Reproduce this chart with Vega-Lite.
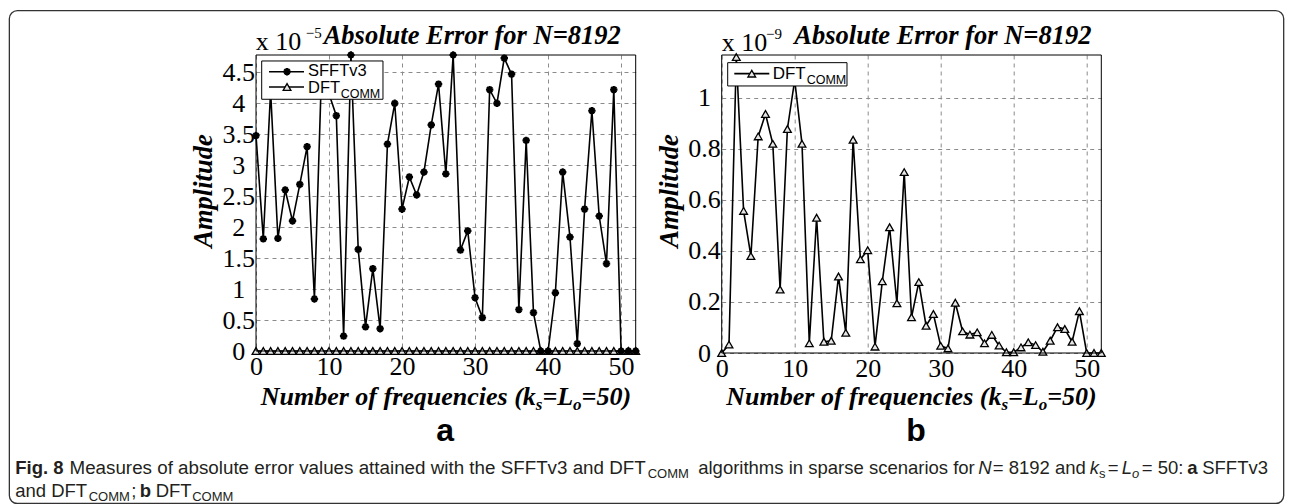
{
  "$schema": "https://vega.github.io/schema/vega-lite/v6.json",
  "background": "white",
  "padding": {"left": 8, "top": 9, "right": 7, "bottom": 0},
  "spacing": 85.7,
  "bounds": "flush",
  "config": {
    "view": {"stroke": null},
    "axis": {"domain": false, "ticks": false, "grid": true, "gridColor": "#8c8c8c", "gridDash": [4, 4], "gridWidth": 1, "labelFont": "Liberation Serif", "labelFontSize": 26, "labelColor": "#000", "labelPadding": 2, "labelFlush": false, "labelOverlap": false, "labelBound": false},
    "axisY": {"labelAlign": "center", "labelPadding": 17.7}
  },
  "data": {"values": [
    {"k":0,"alg":"SFFTv3","err":3.48e-5},{"k":1,"alg":"SFFTv3","err":1.81e-5},{"k":2,"alg":"SFFTv3","err":4.2e-5},{"k":3,"alg":"SFFTv3","err":1.82e-5},{"k":4,"alg":"SFFTv3","err":2.6e-5},{"k":5,"alg":"SFFTv3","err":2.1e-5},{"k":6,"alg":"SFFTv3","err":2.69e-5},{"k":7,"alg":"SFFTv3","err":3.3e-5},{"k":8,"alg":"SFFTv3","err":0.84e-5},{"k":9,"alg":"SFFTv3","err":4.6e-5},{"k":10,"alg":"SFFTv3","err":4.15e-5},{"k":11,"alg":"SFFTv3","err":3.8e-5},{"k":12,"alg":"SFFTv3","err":0.24e-5},{"k":13,"alg":"SFFTv3","err":4.78e-5},{"k":14,"alg":"SFFTv3","err":1.64e-5},{"k":15,"alg":"SFFTv3","err":0.39e-5},{"k":16,"alg":"SFFTv3","err":1.33e-5},{"k":17,"alg":"SFFTv3","err":0.36e-5},{"k":18,"alg":"SFFTv3","err":3.34e-5},{"k":19,"alg":"SFFTv3","err":4.0e-5},{"k":20,"alg":"SFFTv3","err":2.29e-5},{"k":21,"alg":"SFFTv3","err":2.81e-5},{"k":22,"alg":"SFFTv3","err":2.52e-5},{"k":23,"alg":"SFFTv3","err":2.89e-5},{"k":24,"alg":"SFFTv3","err":3.65e-5},{"k":25,"alg":"SFFTv3","err":4.31e-5},{"k":26,"alg":"SFFTv3","err":2.86e-5},{"k":27,"alg":"SFFTv3","err":4.78e-5},{"k":28,"alg":"SFFTv3","err":1.63e-5},{"k":29,"alg":"SFFTv3","err":1.94e-5},{"k":30,"alg":"SFFTv3","err":0.86e-5},{"k":31,"alg":"SFFTv3","err":0.54e-5},{"k":32,"alg":"SFFTv3","err":4.22e-5},{"k":33,"alg":"SFFTv3","err":4.0e-5},{"k":34,"alg":"SFFTv3","err":4.73e-5},{"k":35,"alg":"SFFTv3","err":4.47e-5},{"k":36,"alg":"SFFTv3","err":0.67e-5},{"k":37,"alg":"SFFTv3","err":3.4e-5},{"k":38,"alg":"SFFTv3","err":0.62e-5},{"k":39,"alg":"SFFTv3","err":0},{"k":40,"alg":"SFFTv3","err":0},{"k":41,"alg":"SFFTv3","err":0.94e-5},{"k":42,"alg":"SFFTv3","err":2.89e-5},{"k":43,"alg":"SFFTv3","err":1.84e-5},{"k":44,"alg":"SFFTv3","err":0.12e-5},{"k":45,"alg":"SFFTv3","err":2.29e-5},{"k":46,"alg":"SFFTv3","err":3.88e-5},{"k":47,"alg":"SFFTv3","err":2.18e-5},{"k":48,"alg":"SFFTv3","err":1.41e-5},{"k":49,"alg":"SFFTv3","err":4.22e-5},{"k":50,"alg":"SFFTv3","err":0},{"k":51,"alg":"SFFTv3","err":0},{"k":52,"alg":"SFFTv3","err":0},
    {"k":0,"alg":"DFT_COMM","err":0},{"k":1,"alg":"DFT_COMM","err":3.3e-11},{"k":2,"alg":"DFT_COMM","err":1.16e-9},{"k":3,"alg":"DFT_COMM","err":5.57e-10},{"k":4,"alg":"DFT_COMM","err":3.8e-10},{"k":5,"alg":"DFT_COMM","err":8.49e-10},{"k":6,"alg":"DFT_COMM","err":9.37e-10},{"k":7,"alg":"DFT_COMM","err":8.2e-10},{"k":8,"alg":"DFT_COMM","err":2.49e-10},{"k":9,"alg":"DFT_COMM","err":8.78e-10},{"k":10,"alg":"DFT_COMM","err":1.07e-9},{"k":11,"alg":"DFT_COMM","err":8.2e-10},{"k":12,"alg":"DFT_COMM","err":3.8e-11},{"k":13,"alg":"DFT_COMM","err":5.3e-10},{"k":14,"alg":"DFT_COMM","err":4.4e-11},{"k":15,"alg":"DFT_COMM","err":4.8e-11},{"k":16,"alg":"DFT_COMM","err":3.0e-10},{"k":17,"alg":"DFT_COMM","err":7.9e-11},{"k":18,"alg":"DFT_COMM","err":8.36e-10},{"k":19,"alg":"DFT_COMM","err":3.67e-10},{"k":20,"alg":"DFT_COMM","err":4.03e-10},{"k":21,"alg":"DFT_COMM","err":2.5e-11},{"k":22,"alg":"DFT_COMM","err":2.81e-10},{"k":23,"alg":"DFT_COMM","err":4.93e-10},{"k":24,"alg":"DFT_COMM","err":1.95e-10},{"k":25,"alg":"DFT_COMM","err":7.09e-10},{"k":26,"alg":"DFT_COMM","err":1.4e-10},{"k":27,"alg":"DFT_COMM","err":2.78e-10},{"k":28,"alg":"DFT_COMM","err":1.07e-10},{"k":29,"alg":"DFT_COMM","err":1.53e-10},{"k":30,"alg":"DFT_COMM","err":2.8e-11},{"k":31,"alg":"DFT_COMM","err":1.8e-11},{"k":32,"alg":"DFT_COMM","err":1.97e-10},{"k":33,"alg":"DFT_COMM","err":8.5e-11},{"k":34,"alg":"DFT_COMM","err":7.2e-11},{"k":35,"alg":"DFT_COMM","err":8.1e-11},{"k":36,"alg":"DFT_COMM","err":3.8e-11},{"k":37,"alg":"DFT_COMM","err":7.1e-11},{"k":38,"alg":"DFT_COMM","err":2.9e-11},{"k":39,"alg":"DFT_COMM","err":3e-12},{"k":40,"alg":"DFT_COMM","err":3e-12},{"k":41,"alg":"DFT_COMM","err":2.2e-11},{"k":42,"alg":"DFT_COMM","err":4.2e-11},{"k":43,"alg":"DFT_COMM","err":3.1e-11},{"k":44,"alg":"DFT_COMM","err":5e-12},{"k":45,"alg":"DFT_COMM","err":4.8e-11},{"k":46,"alg":"DFT_COMM","err":1.01e-10},{"k":47,"alg":"DFT_COMM","err":9.4e-11},{"k":48,"alg":"DFT_COMM","err":4.4e-11},{"k":49,"alg":"DFT_COMM","err":1.64e-10},{"k":50,"alg":"DFT_COMM","err":0},{"k":51,"alg":"DFT_COMM","err":0},{"k":52,"alg":"DFT_COMM","err":0}
  ]},
  "hconcat": [
    {
      "width": 379.7,
      "height": 296,
      "layer": [
        {"transform":[{"filter":"datum.alg === 'SFFTv3'"}],"mark":{"type":"line","color":"#000","strokeWidth":1.6},
         "encoding":{"x":{"field":"k","type":"quantitative","scale":{"domain":[0,52],"nice":false,"zero":false},"axis":{"values":[0,10,20,30,40,50],"title":null}},
                     "y":{"field":"err","type":"quantitative","scale":{"domain":[0,4.78e-5],"nice":false,"zero":false},"axis":{"values":[0,5e-6,1e-5,1.5e-5,2e-5,2.5e-5,3e-5,3.5e-5,4e-5,4.5e-5],"labelExpr":"format(datum.value*1e5,'~g')","title":null}}}},
        {"transform":[{"filter":"datum.alg === 'DFT_COMM'"}],"mark":{"type":"line","color":"#000","strokeWidth":1.6},
         "encoding":{"x":{"field":"k","type":"quantitative","scale":{"domain":[0,52],"nice":false,"zero":false},"axis":{"values":[0,10,20,30,40,50],"title":null}},
                     "y":{"field":"err","type":"quantitative","scale":{"domain":[0,4.78e-5],"nice":false,"zero":false},"axis":{"values":[0,5e-6,1e-5,1.5e-5,2e-5,2.5e-5,3e-5,3.5e-5,4e-5,4.5e-5],"labelExpr":"format(datum.value*1e5,'~g')","title":null}}}},
        {"transform":[{"filter":"datum.alg === 'DFT_COMM'"}],"mark":{"type":"point","shape":"triangle-up","filled":true,"fill":"#e6e6e6","stroke":"#000","strokeWidth":1.3,"size":60,"opacity":1},
         "encoding":{"x":{"field":"k","type":"quantitative","scale":{"domain":[0,52],"nice":false,"zero":false},"axis":{"values":[0,10,20,30,40,50],"title":null}},
                     "y":{"field":"err","type":"quantitative","scale":{"domain":[0,4.78e-5],"nice":false,"zero":false},"axis":{"values":[0,5e-6,1e-5,1.5e-5,2e-5,2.5e-5,3e-5,3.5e-5,4e-5,4.5e-5],"labelExpr":"format(datum.value*1e5,'~g')","title":null}}}},
        {"transform":[{"filter":"datum.alg === 'SFFTv3'"}],"mark":{"type":"point","shape":"M-1,0L1,0M0,-1L0,1M-0.7,-0.7L0.7,0.7M-0.7,0.7L0.7,-0.7","filled":false,"stroke":"#000","strokeWidth":2.2,"size":55,"opacity":1},
         "encoding":{"x":{"field":"k","type":"quantitative","scale":{"domain":[0,52],"nice":false,"zero":false},"axis":{"values":[0,10,20,30,40,50],"title":null}},
                     "y":{"field":"err","type":"quantitative","scale":{"domain":[0,4.78e-5],"nice":false,"zero":false},"axis":{"values":[0,5e-6,1e-5,1.5e-5,2e-5,2.5e-5,3e-5,3.5e-5,4e-5,4.5e-5],"labelExpr":"format(datum.value*1e5,'~g')","title":null}}}},
        {"data":{"values":[{}]},"mark":{"type":"rect","fillOpacity":0,"stroke":"#000","strokeWidth":1},
         "encoding":{"x":{"datum":0,"type":"quantitative","scale":{"domain":[0,52],"nice":false,"zero":false},"axis":{"values":[0,10,20,30,40,50],"title":null}},"x2":{"datum":52},
                     "y":{"datum":0,"type":"quantitative","scale":{"domain":[0,4.78e-5],"nice":false,"zero":false},"axis":{"values":[0,5e-6,1e-5,1.5e-5,2e-5,2.5e-5,3e-5,3.5e-5,4e-5,4.5e-5],"labelExpr":"format(datum.value*1e5,'~g')","title":null}},"y2":{"datum":4.78e-5}}},
        {"data":{"values":[{}]},"mark":{"type":"rect","fillOpacity":0,"stroke":"#333","strokeWidth":1.3,"cornerRadius":8},
         "encoding":{"x":{"datum":-33.778,"type":"quantitative","scale":{"domain":[0,52],"nice":false,"zero":false},"axis":{"values":[0,10,20,30,40,50],"title":null}},"x2":{"datum":140.742},
                     "y":{"datum":-2.46286e-5,"type":"quantitative","scale":{"domain":[0,4.78e-5],"nice":false,"zero":false},"axis":{"values":[0,5e-6,1e-5,1.5e-5,2e-5,2.5e-5,3e-5,3.5e-5,4e-5,4.5e-5],"labelExpr":"format(datum.value*1e5,'~g')","title":null}},"y2":{"datum":5.49661e-5}}},
        {"data":{"values":[{}]},"mark":{"type":"rect","fill":"#fff","stroke":"#000","strokeWidth":1},
         "encoding":{"x":{"datum":0.781,"type":"quantitative","scale":{"domain":[0,52],"nice":false,"zero":false},"axis":{"values":[0,10,20,30,40,50],"title":null}},"x2":{"datum":17.39},
                     "y":{"datum":4.06493e-5,"type":"quantitative","scale":{"domain":[0,4.78e-5],"nice":false,"zero":false},"axis":{"values":[0,5e-6,1e-5,1.5e-5,2e-5,2.5e-5,3e-5,3.5e-5,4e-5,4.5e-5],"labelExpr":"format(datum.value*1e5,'~g')","title":null}},"y2":{"datum":4.68347e-5}}},
        {"data":{"values":[{}]},"mark":{"type":"rule","color":"#000","strokeWidth":1.6},
         "encoding":{"x":{"datum":1.78,"type":"quantitative","scale":{"domain":[0,52],"nice":false,"zero":false},"axis":{"values":[0,10,20,30,40,50],"title":null}},"x2":{"datum":6.574},
                     "y":{"datum":4.51067e-5,"type":"quantitative","scale":{"domain":[0,4.78e-5],"nice":false,"zero":false},"axis":{"values":[0,5e-6,1e-5,1.5e-5,2e-5,2.5e-5,3e-5,3.5e-5,4e-5,4.5e-5],"labelExpr":"format(datum.value*1e5,'~g')","title":null}}}},
        {"data":{"values":[{}]},"mark":{"type":"rule","color":"#000","strokeWidth":1.6},
         "encoding":{"x":{"datum":1.78,"type":"quantitative","scale":{"domain":[0,52],"nice":false,"zero":false},"axis":{"values":[0,10,20,30,40,50],"title":null}},"x2":{"datum":6.574},
                     "y":{"datum":4.26357e-5,"type":"quantitative","scale":{"domain":[0,4.78e-5],"nice":false,"zero":false},"axis":{"values":[0,5e-6,1e-5,1.5e-5,2e-5,2.5e-5,3e-5,3.5e-5,4e-5,4.5e-5],"labelExpr":"format(datum.value*1e5,'~g')","title":null}}}},
        {"data":{"values":[{}]},"mark":{"type":"point","shape":"M-1,0L1,0M0,-1L0,1M-0.7,-0.7L0.7,0.7M-0.7,0.7L0.7,-0.7","filled":false,"stroke":"#000","strokeWidth":2.2,"size":55,"opacity":1},
         "encoding":{"x":{"datum":4.25,"type":"quantitative","scale":{"domain":[0,52],"nice":false,"zero":false},"axis":{"values":[0,10,20,30,40,50],"title":null}},
                     "y":{"datum":4.51067e-5,"type":"quantitative","scale":{"domain":[0,4.78e-5],"nice":false,"zero":false},"axis":{"values":[0,5e-6,1e-5,1.5e-5,2e-5,2.5e-5,3e-5,3.5e-5,4e-5,4.5e-5],"labelExpr":"format(datum.value*1e5,'~g')","title":null}}}},
        {"data":{"values":[{}]},"mark":{"type":"point","shape":"triangle-up","filled":true,"fill":"#e6e6e6","stroke":"#000","strokeWidth":1.3,"size":60,"opacity":1},
         "encoding":{"x":{"datum":4.25,"type":"quantitative","scale":{"domain":[0,52],"nice":false,"zero":false},"axis":{"values":[0,10,20,30,40,50],"title":null}},
                     "y":{"datum":4.26357e-5,"type":"quantitative","scale":{"domain":[0,4.78e-5],"nice":false,"zero":false},"axis":{"values":[0,5e-6,1e-5,1.5e-5,2e-5,2.5e-5,3e-5,3.5e-5,4e-5,4.5e-5],"labelExpr":"format(datum.value*1e5,'~g')","title":null}}}},
        {"data":{"values":[{}]},"mark":{"type":"text","text":"SFFTv3","font":"Liberation Sans","fontSize":16.5,"align":"left","baseline":"alphabetic","color":"#000"},
         "encoding":{"x":{"datum":7.121,"type":"quantitative","scale":{"domain":[0,52],"nice":false,"zero":false},"axis":{"values":[0,10,20,30,40,50],"title":null}},
                     "y":{"datum":4.43315e-5,"type":"quantitative","scale":{"domain":[0,4.78e-5],"nice":false,"zero":false},"axis":{"values":[0,5e-6,1e-5,1.5e-5,2e-5,2.5e-5,3e-5,3.5e-5,4e-5,4.5e-5],"labelExpr":"format(datum.value*1e5,'~g')","title":null}}}},
        {"data":{"values":[{}]},"mark":{"type":"text","text":"DFT","font":"Liberation Sans","fontSize":16.5,"align":"left","baseline":"alphabetic","color":"#000"},
         "encoding":{"x":{"datum":7.121,"type":"quantitative","scale":{"domain":[0,52],"nice":false,"zero":false},"axis":{"values":[0,10,20,30,40,50],"title":null}},
                     "y":{"datum":4.16667e-5,"type":"quantitative","scale":{"domain":[0,4.78e-5],"nice":false,"zero":false},"axis":{"values":[0,5e-6,1e-5,1.5e-5,2e-5,2.5e-5,3e-5,3.5e-5,4e-5,4.5e-5],"labelExpr":"format(datum.value*1e5,'~g')","title":null}}}},
        {"data":{"values":[{}]},"mark":{"type":"text","text":"COMM","font":"Liberation Sans","fontSize":12.5,"align":"left","baseline":"alphabetic","color":"#000"},
         "encoding":{"x":{"datum":11.6,"type":"quantitative","scale":{"domain":[0,52],"nice":false,"zero":false},"axis":{"values":[0,10,20,30,40,50],"title":null}},
                     "y":{"datum":4.08592e-5,"type":"quantitative","scale":{"domain":[0,4.78e-5],"nice":false,"zero":false},"axis":{"values":[0,5e-6,1e-5,1.5e-5,2e-5,2.5e-5,3e-5,3.5e-5,4e-5,4.5e-5],"labelExpr":"format(datum.value*1e5,'~g')","title":null}}}},
        {"data":{"values":[{}]},"mark":{"type":"text","text":"x 10","font":"Liberation Serif","fontSize":26,"align":"left","baseline":"alphabetic","color":"#000"},
         "encoding":{"x":{"datum":-0.04,"type":"quantitative","scale":{"domain":[0,52],"nice":false,"zero":false},"axis":{"values":[0,10,20,30,40,50],"title":null}},
                     "y":{"datum":4.85627e-5,"type":"quantitative","scale":{"domain":[0,4.78e-5],"nice":false,"zero":false},"axis":{"values":[0,5e-6,1e-5,1.5e-5,2e-5,2.5e-5,3e-5,3.5e-5,4e-5,4.5e-5],"labelExpr":"format(datum.value*1e5,'~g')","title":null}}}},
        {"data":{"values":[{}]},"mark":{"type":"text","text":"−5","font":"Liberation Serif","fontSize":15,"align":"left","baseline":"alphabetic","color":"#000"},
         "encoding":{"x":{"datum":6.806,"type":"quantitative","scale":{"domain":[0,52],"nice":false,"zero":false},"axis":{"values":[0,10,20,30,40,50],"title":null}},
                     "y":{"datum":5.04684e-5,"type":"quantitative","scale":{"domain":[0,4.78e-5],"nice":false,"zero":false},"axis":{"values":[0,5e-6,1e-5,1.5e-5,2e-5,2.5e-5,3e-5,3.5e-5,4e-5,4.5e-5],"labelExpr":"format(datum.value*1e5,'~g')","title":null}}}},
        {"data":{"values":[{}]},"mark":{"type":"text","text":"Absolute Error for N=8192","font":"Liberation Serif","fontSize":26.5,"fontWeight":"bold","fontStyle":"italic","align":"left","baseline":"alphabetic","color":"#000"},
         "encoding":{"x":{"datum":9.271,"type":"quantitative","scale":{"domain":[0,52],"nice":false,"zero":false},"axis":{"values":[0,10,20,30,40,50],"title":null}},
                     "y":{"datum":4.95317e-5,"type":"quantitative","scale":{"domain":[0,4.78e-5],"nice":false,"zero":false},"axis":{"values":[0,5e-6,1e-5,1.5e-5,2e-5,2.5e-5,3e-5,3.5e-5,4e-5,4.5e-5],"labelExpr":"format(datum.value*1e5,'~g')","title":null}}}},
        {"data":{"values":[{}]},"mark":{"type":"text","text":"Amplitude","angle":270,"font":"Liberation Serif","fontSize":26.5,"fontWeight":"bold","fontStyle":"italic","align":"center","baseline":"alphabetic","color":"#000"},
         "encoding":{"x":{"datum":-5.985,"type":"quantitative","scale":{"domain":[0,52],"nice":false,"zero":false},"axis":{"values":[0,10,20,30,40,50],"title":null}},
                     "y":{"datum":2.58398e-5,"type":"quantitative","scale":{"domain":[0,4.78e-5],"nice":false,"zero":false},"axis":{"values":[0,5e-6,1e-5,1.5e-5,2e-5,2.5e-5,3e-5,3.5e-5,4e-5,4.5e-5],"labelExpr":"format(datum.value*1e5,'~g')","title":null}}}},
        {"data":{"values":[{}]},"mark":{"type":"text","text":"Number of frequencies (k","font":"Liberation Serif","fontSize":26,"fontWeight":"bold","fontStyle":"italic","align":"left","baseline":"alphabetic","color":"#000"},
         "encoding":{"x":{"datum":0.644,"type":"quantitative","scale":{"domain":[0,52],"nice":false,"zero":false},"axis":{"values":[0,10,20,30,40,50],"title":null}},
                     "y":{"datum":-0.872095e-5,"type":"quantitative","scale":{"domain":[0,4.78e-5],"nice":false,"zero":false},"axis":{"values":[0,5e-6,1e-5,1.5e-5,2e-5,2.5e-5,3e-5,3.5e-5,4e-5,4.5e-5],"labelExpr":"format(datum.value*1e5,'~g')","title":null}}}},
        {"data":{"values":[{}]},"mark":{"type":"text","text":"s","font":"Liberation Serif","fontSize":17,"fontWeight":"bold","fontStyle":"italic","align":"left","baseline":"alphabetic","color":"#000"},
         "encoding":{"x":{"datum":38.318,"type":"quantitative","scale":{"domain":[0,52],"nice":false,"zero":false},"axis":{"values":[0,10,20,30,40,50],"title":null}},
                     "y":{"datum":-0.952844e-5,"type":"quantitative","scale":{"domain":[0,4.78e-5],"nice":false,"zero":false},"axis":{"values":[0,5e-6,1e-5,1.5e-5,2e-5,2.5e-5,3e-5,3.5e-5,4e-5,4.5e-5],"labelExpr":"format(datum.value*1e5,'~g')","title":null}}}},
        {"data":{"values":[{}]},"mark":{"type":"text","text":"=L","font":"Liberation Serif","fontSize":26,"fontWeight":"bold","fontStyle":"italic","align":"left","baseline":"alphabetic","color":"#000"},
         "encoding":{"x":{"datum":39.222,"type":"quantitative","scale":{"domain":[0,52],"nice":false,"zero":false},"axis":{"values":[0,10,20,30,40,50],"title":null}},
                     "y":{"datum":-0.872095e-5,"type":"quantitative","scale":{"domain":[0,4.78e-5],"nice":false,"zero":false},"axis":{"values":[0,5e-6,1e-5,1.5e-5,2e-5,2.5e-5,3e-5,3.5e-5,4e-5,4.5e-5],"labelExpr":"format(datum.value*1e5,'~g')","title":null}}}},
        {"data":{"values":[{}]},"mark":{"type":"text","text":"o","font":"Liberation Serif","fontSize":17,"fontWeight":"bold","fontStyle":"italic","align":"left","baseline":"alphabetic","color":"#000"},
         "encoding":{"x":{"datum":43.426,"type":"quantitative","scale":{"domain":[0,52],"nice":false,"zero":false},"axis":{"values":[0,10,20,30,40,50],"title":null}},
                     "y":{"datum":-0.952844e-5,"type":"quantitative","scale":{"domain":[0,4.78e-5],"nice":false,"zero":false},"axis":{"values":[0,5e-6,1e-5,1.5e-5,2e-5,2.5e-5,3e-5,3.5e-5,4e-5,4.5e-5],"labelExpr":"format(datum.value*1e5,'~g')","title":null}}}},
        {"data":{"values":[{}]},"mark":{"type":"text","text":"=50)","font":"Liberation Serif","fontSize":26,"fontWeight":"bold","fontStyle":"italic","align":"left","baseline":"alphabetic","color":"#000"},
         "encoding":{"x":{"datum":44.591,"type":"quantitative","scale":{"domain":[0,52],"nice":false,"zero":false},"axis":{"values":[0,10,20,30,40,50],"title":null}},
                     "y":{"datum":-0.872095e-5,"type":"quantitative","scale":{"domain":[0,4.78e-5],"nice":false,"zero":false},"axis":{"values":[0,5e-6,1e-5,1.5e-5,2e-5,2.5e-5,3e-5,3.5e-5,4e-5,4.5e-5],"labelExpr":"format(datum.value*1e5,'~g')","title":null}}}},
        {"data":{"values":[{}]},"mark":{"type":"text","text":"a","font":"Liberation Sans","fontSize":32,"fontWeight":"bold","align":"center","baseline":"alphabetic","color":"#000"},
         "encoding":{"x":{"datum":25.911,"type":"quantitative","scale":{"domain":[0,52],"nice":false,"zero":false},"axis":{"values":[0,10,20,30,40,50],"title":null}},
                     "y":{"datum":-1.45349e-5,"type":"quantitative","scale":{"domain":[0,4.78e-5],"nice":false,"zero":false},"axis":{"values":[0,5e-6,1e-5,1.5e-5,2e-5,2.5e-5,3e-5,3.5e-5,4e-5,4.5e-5],"labelExpr":"format(datum.value*1e5,'~g')","title":null}}}},
        {"data":{"values":[{}]},"mark":{"type":"text","text":"Fig. 8","font":"Liberation Sans","fontSize":18.5,"fontWeight":"bold","align":"left","baseline":"alphabetic","color":"#231f20"},
         "encoding":{"x":{"datum":-32.977,"type":"quantitative","scale":{"domain":[0,52],"nice":false,"zero":false},"axis":{"values":[0,10,20,30,40,50],"title":null}},
                     "y":{"datum":-1.98644e-5,"type":"quantitative","scale":{"domain":[0,4.78e-5],"nice":false,"zero":false},"axis":{"values":[0,5e-6,1e-5,1.5e-5,2e-5,2.5e-5,3e-5,3.5e-5,4e-5,4.5e-5],"labelExpr":"format(datum.value*1e5,'~g')","title":null}}}},
        {"data":{"values":[{}]},"mark":{"type":"text","text":"Measures of absolute error values attained with the SFFTv3 and DFT","font":"Liberation Sans","fontSize":18.8,"align":"left","baseline":"alphabetic","color":"#231f20"},
         "encoding":{"x":{"datum":-25.541,"type":"quantitative","scale":{"domain":[0,52],"nice":false,"zero":false},"axis":{"values":[0,10,20,30,40,50],"title":null}},
                     "y":{"datum":-1.98644e-5,"type":"quantitative","scale":{"domain":[0,4.78e-5],"nice":false,"zero":false},"axis":{"values":[0,5e-6,1e-5,1.5e-5,2e-5,2.5e-5,3e-5,3.5e-5,4e-5,4.5e-5],"labelExpr":"format(datum.value*1e5,'~g')","title":null}}}},
        {"data":{"values":[{}]},"mark":{"type":"text","text":"COMM","font":"Liberation Sans","fontSize":13,"align":"left","baseline":"alphabetic","color":"#231f20"},
         "encoding":{"x":{"datum":53.643,"type":"quantitative","scale":{"domain":[0,52],"nice":false,"zero":false},"axis":{"values":[0,10,20,30,40,50],"title":null}},
                     "y":{"datum":-2.05104e-5,"type":"quantitative","scale":{"domain":[0,4.78e-5],"nice":false,"zero":false},"axis":{"values":[0,5e-6,1e-5,1.5e-5,2e-5,2.5e-5,3e-5,3.5e-5,4e-5,4.5e-5],"labelExpr":"format(datum.value*1e5,'~g')","title":null}}}},
        {"data":{"values":[{}]},"mark":{"type":"text","text":"algorithms in sparse scenarios for","font":"Liberation Sans","fontSize":18.5,"align":"left","baseline":"alphabetic","color":"#231f20"},
         "encoding":{"x":{"datum":60.559,"type":"quantitative","scale":{"domain":[0,52],"nice":false,"zero":false},"axis":{"values":[0,10,20,30,40,50],"title":null}},
                     "y":{"datum":-1.98644e-5,"type":"quantitative","scale":{"domain":[0,4.78e-5],"nice":false,"zero":false},"axis":{"values":[0,5e-6,1e-5,1.5e-5,2e-5,2.5e-5,3e-5,3.5e-5,4e-5,4.5e-5],"labelExpr":"format(datum.value*1e5,'~g')","title":null}}}},
        {"data":{"values":[{}]},"mark":{"type":"text","text":"N","font":"Liberation Sans","fontSize":18.5,"fontStyle":"italic","align":"left","baseline":"alphabetic","color":"#231f20"},
         "encoding":{"x":{"datum":98.904,"type":"quantitative","scale":{"domain":[0,52],"nice":false,"zero":false},"axis":{"values":[0,10,20,30,40,50],"title":null}},
                     "y":{"datum":-1.98644e-5,"type":"quantitative","scale":{"domain":[0,4.78e-5],"nice":false,"zero":false},"axis":{"values":[0,5e-6,1e-5,1.5e-5,2e-5,2.5e-5,3e-5,3.5e-5,4e-5,4.5e-5],"labelExpr":"format(datum.value*1e5,'~g')","title":null}}}},
        {"data":{"values":[{}]},"mark":{"type":"text","text":"= 8192 and","font":"Liberation Sans","fontSize":18.5,"align":"left","baseline":"alphabetic","color":"#231f20"},
         "encoding":{"x":{"datum":100.89,"type":"quantitative","scale":{"domain":[0,52],"nice":false,"zero":false},"axis":{"values":[0,10,20,30,40,50],"title":null}},
                     "y":{"datum":-1.98644e-5,"type":"quantitative","scale":{"domain":[0,4.78e-5],"nice":false,"zero":false},"axis":{"values":[0,5e-6,1e-5,1.5e-5,2e-5,2.5e-5,3e-5,3.5e-5,4e-5,4.5e-5],"labelExpr":"format(datum.value*1e5,'~g')","title":null}}}},
        {"data":{"values":[{}]},"mark":{"type":"text","text":"k","font":"Liberation Sans","fontSize":18.5,"fontStyle":"italic","align":"left","baseline":"alphabetic","color":"#231f20"},
         "encoding":{"x":{"datum":114.174,"type":"quantitative","scale":{"domain":[0,52],"nice":false,"zero":false},"axis":{"values":[0,10,20,30,40,50],"title":null}},
                     "y":{"datum":-1.98644e-5,"type":"quantitative","scale":{"domain":[0,4.78e-5],"nice":false,"zero":false},"axis":{"values":[0,5e-6,1e-5,1.5e-5,2e-5,2.5e-5,3e-5,3.5e-5,4e-5,4.5e-5],"labelExpr":"format(datum.value*1e5,'~g')","title":null}}}},
        {"data":{"values":[{}]},"mark":{"type":"text","text":"s","font":"Liberation Sans","fontSize":13,"align":"left","baseline":"alphabetic","color":"#231f20"},
         "encoding":{"x":{"datum":115.434,"type":"quantitative","scale":{"domain":[0,52],"nice":false,"zero":false},"axis":{"values":[0,10,20,30,40,50],"title":null}},
                     "y":{"datum":-2.05104e-5,"type":"quantitative","scale":{"domain":[0,4.78e-5],"nice":false,"zero":false},"axis":{"values":[0,5e-6,1e-5,1.5e-5,2e-5,2.5e-5,3e-5,3.5e-5,4e-5,4.5e-5],"labelExpr":"format(datum.value*1e5,'~g')","title":null}}}},
        {"data":{"values":[{}]},"mark":{"type":"text","text":"=","font":"Liberation Sans","fontSize":18.5,"align":"left","baseline":"alphabetic","color":"#231f20"},
         "encoding":{"x":{"datum":116.639,"type":"quantitative","scale":{"domain":[0,52],"nice":false,"zero":false},"axis":{"values":[0,10,20,30,40,50],"title":null}},
                     "y":{"datum":-1.98644e-5,"type":"quantitative","scale":{"domain":[0,4.78e-5],"nice":false,"zero":false},"axis":{"values":[0,5e-6,1e-5,1.5e-5,2e-5,2.5e-5,3e-5,3.5e-5,4e-5,4.5e-5],"labelExpr":"format(datum.value*1e5,'~g')","title":null}}}},
        {"data":{"values":[{}]},"mark":{"type":"text","text":"L","font":"Liberation Sans","fontSize":18.5,"fontStyle":"italic","align":"left","baseline":"alphabetic","color":"#231f20"},
         "encoding":{"x":{"datum":118.556,"type":"quantitative","scale":{"domain":[0,52],"nice":false,"zero":false},"axis":{"values":[0,10,20,30,40,50],"title":null}},
                     "y":{"datum":-1.98644e-5,"type":"quantitative","scale":{"domain":[0,4.78e-5],"nice":false,"zero":false},"axis":{"values":[0,5e-6,1e-5,1.5e-5,2e-5,2.5e-5,3e-5,3.5e-5,4e-5,4.5e-5],"labelExpr":"format(datum.value*1e5,'~g')","title":null}}}},
        {"data":{"values":[{}]},"mark":{"type":"text","text":"o","font":"Liberation Sans","fontSize":13,"fontStyle":"italic","align":"left","baseline":"alphabetic","color":"#231f20"},
         "encoding":{"x":{"datum":119.967,"type":"quantitative","scale":{"domain":[0,52],"nice":false,"zero":false},"axis":{"values":[0,10,20,30,40,50],"title":null}},
                     "y":{"datum":-2.05104e-5,"type":"quantitative","scale":{"domain":[0,4.78e-5],"nice":false,"zero":false},"axis":{"values":[0,5e-6,1e-5,1.5e-5,2e-5,2.5e-5,3e-5,3.5e-5,4e-5,4.5e-5],"labelExpr":"format(datum.value*1e5,'~g')","title":null}}}},
        {"data":{"values":[{}]},"mark":{"type":"text","text":"= 50:","font":"Liberation Sans","fontSize":18.5,"align":"left","baseline":"alphabetic","color":"#231f20"},
         "encoding":{"x":{"datum":121.296,"type":"quantitative","scale":{"domain":[0,52],"nice":false,"zero":false},"axis":{"values":[0,10,20,30,40,50],"title":null}},
                     "y":{"datum":-1.98644e-5,"type":"quantitative","scale":{"domain":[0,4.78e-5],"nice":false,"zero":false},"axis":{"values":[0,5e-6,1e-5,1.5e-5,2e-5,2.5e-5,3e-5,3.5e-5,4e-5,4.5e-5],"labelExpr":"format(datum.value*1e5,'~g')","title":null}}}},
        {"data":{"values":[{}]},"mark":{"type":"text","text":"a","font":"Liberation Sans","fontSize":18.5,"fontWeight":"bold","align":"left","baseline":"alphabetic","color":"#231f20"},
         "encoding":{"x":{"datum":127.527,"type":"quantitative","scale":{"domain":[0,52],"nice":false,"zero":false},"axis":{"values":[0,10,20,30,40,50],"title":null}},
                     "y":{"datum":-1.98644e-5,"type":"quantitative","scale":{"domain":[0,4.78e-5],"nice":false,"zero":false},"axis":{"values":[0,5e-6,1e-5,1.5e-5,2e-5,2.5e-5,3e-5,3.5e-5,4e-5,4.5e-5],"labelExpr":"format(datum.value*1e5,'~g')","title":null}}}},
        {"data":{"values":[{}]},"mark":{"type":"text","text":"SFFTv3","font":"Liberation Sans","fontSize":18.5,"align":"left","baseline":"alphabetic","color":"#231f20"},
         "encoding":{"x":{"datum":129.581,"type":"quantitative","scale":{"domain":[0,52],"nice":false,"zero":false},"axis":{"values":[0,10,20,30,40,50],"title":null}},
                     "y":{"datum":-1.98644e-5,"type":"quantitative","scale":{"domain":[0,4.78e-5],"nice":false,"zero":false},"axis":{"values":[0,5e-6,1e-5,1.5e-5,2e-5,2.5e-5,3e-5,3.5e-5,4e-5,4.5e-5],"labelExpr":"format(datum.value*1e5,'~g')","title":null}}}},
        {"data":{"values":[{}]},"mark":{"type":"text","text":"and DFT","font":"Liberation Sans","fontSize":18.5,"align":"left","baseline":"alphabetic","color":"#231f20"},
         "encoding":{"x":{"datum":-32.977,"type":"quantitative","scale":{"domain":[0,52],"nice":false,"zero":false},"axis":{"values":[0,10,20,30,40,50],"title":null}},
                     "y":{"datum":-2.35789e-5,"type":"quantitative","scale":{"domain":[0,4.78e-5],"nice":false,"zero":false},"axis":{"values":[0,5e-6,1e-5,1.5e-5,2e-5,2.5e-5,3e-5,3.5e-5,4e-5,4.5e-5],"labelExpr":"format(datum.value*1e5,'~g')","title":null}}}},
        {"data":{"values":[{}]},"mark":{"type":"text","text":"COMM","font":"Liberation Sans","fontSize":13,"align":"left","baseline":"alphabetic","color":"#231f20"},
         "encoding":{"x":{"datum":-22.911,"type":"quantitative","scale":{"domain":[0,52],"nice":false,"zero":false},"axis":{"values":[0,10,20,30,40,50],"title":null}},
                     "y":{"datum":-2.42249e-5,"type":"quantitative","scale":{"domain":[0,4.78e-5],"nice":false,"zero":false},"axis":{"values":[0,5e-6,1e-5,1.5e-5,2e-5,2.5e-5,3e-5,3.5e-5,4e-5,4.5e-5],"labelExpr":"format(datum.value*1e5,'~g')","title":null}}}},
        {"data":{"values":[{}]},"mark":{"type":"text","text":";","font":"Liberation Sans","fontSize":18.5,"align":"left","baseline":"alphabetic","color":"#231f20"},
         "encoding":{"x":{"datum":-17.091,"type":"quantitative","scale":{"domain":[0,52],"nice":false,"zero":false},"axis":{"values":[0,10,20,30,40,50],"title":null}},
                     "y":{"datum":-2.35789e-5,"type":"quantitative","scale":{"domain":[0,4.78e-5],"nice":false,"zero":false},"axis":{"values":[0,5e-6,1e-5,1.5e-5,2e-5,2.5e-5,3e-5,3.5e-5,4e-5,4.5e-5],"labelExpr":"format(datum.value*1e5,'~g')","title":null}}}},
        {"data":{"values":[{}]},"mark":{"type":"text","text":"b","font":"Liberation Sans","fontSize":18.5,"fontWeight":"bold","align":"left","baseline":"alphabetic","color":"#231f20"},
         "encoding":{"x":{"datum":-15.927,"type":"quantitative","scale":{"domain":[0,52],"nice":false,"zero":false},"axis":{"values":[0,10,20,30,40,50],"title":null}},
                     "y":{"datum":-2.35789e-5,"type":"quantitative","scale":{"domain":[0,4.78e-5],"nice":false,"zero":false},"axis":{"values":[0,5e-6,1e-5,1.5e-5,2e-5,2.5e-5,3e-5,3.5e-5,4e-5,4.5e-5],"labelExpr":"format(datum.value*1e5,'~g')","title":null}}}},
        {"data":{"values":[{}]},"mark":{"type":"text","text":"DFT","font":"Liberation Sans","fontSize":18.5,"align":"left","baseline":"alphabetic","color":"#231f20"},
         "encoding":{"x":{"datum":-13.736,"type":"quantitative","scale":{"domain":[0,52],"nice":false,"zero":false},"axis":{"values":[0,10,20,30,40,50],"title":null}},
                     "y":{"datum":-2.35789e-5,"type":"quantitative","scale":{"domain":[0,4.78e-5],"nice":false,"zero":false},"axis":{"values":[0,5e-6,1e-5,1.5e-5,2e-5,2.5e-5,3e-5,3.5e-5,4e-5,4.5e-5],"labelExpr":"format(datum.value*1e5,'~g')","title":null}}}},
        {"data":{"values":[{}]},"mark":{"type":"text","text":"COMM","font":"Liberation Sans","fontSize":13,"align":"left","baseline":"alphabetic","color":"#231f20"},
         "encoding":{"x":{"datum":-8.737,"type":"quantitative","scale":{"domain":[0,52],"nice":false,"zero":false},"axis":{"values":[0,10,20,30,40,50],"title":null}},
                     "y":{"datum":-2.42249e-5,"type":"quantitative","scale":{"domain":[0,4.78e-5],"nice":false,"zero":false},"axis":{"values":[0,5e-6,1e-5,1.5e-5,2e-5,2.5e-5,3e-5,3.5e-5,4e-5,4.5e-5],"labelExpr":"format(datum.value*1e5,'~g')","title":null}}}}
      ]
    },
    {
      "width": 379.6,
      "height": 298,
      "transform": [{"filter": "datum.alg === 'DFT_COMM'"}],
      "layer": [
        {"mark":{"type":"line","color":"#000","strokeWidth":1.6},
         "encoding":{"x":{"field":"k","type":"quantitative","scale":{"domain":[0,52],"nice":false,"zero":false},"axis":{"values":[0,10,20,30,40,50],"title":null}},
                     "y":{"field":"err","type":"quantitative","scale":{"domain":[0,1.168e-9],"nice":false,"zero":false},"axis":{"values":[0,2e-10,4e-10,6e-10,8e-10,1e-9],"labelExpr":"format(datum.value*1e9,'~g')","title":null}}}},
        {"mark":{"type":"point","shape":"triangle-up","filled":true,"fill":"#e6e6e6","stroke":"#000","strokeWidth":1.3,"size":60,"opacity":1},
         "encoding":{"x":{"field":"k","type":"quantitative","scale":{"domain":[0,52],"nice":false,"zero":false},"axis":{"values":[0,10,20,30,40,50],"title":null}},
                     "y":{"field":"err","type":"quantitative","scale":{"domain":[0,1.168e-9],"nice":false,"zero":false},"axis":{"values":[0,2e-10,4e-10,6e-10,8e-10,1e-9],"labelExpr":"format(datum.value*1e9,'~g')","title":null}}}},
        {"data":{"values":[{}]},"mark":{"type":"rect","fillOpacity":0,"stroke":"#000","strokeWidth":1},
         "encoding":{"x":{"datum":0,"type":"quantitative","scale":{"domain":[0,52],"nice":false,"zero":false},"axis":{"values":[0,10,20,30,40,50],"title":null}},"x2":{"datum":52},
                     "y":{"datum":0,"type":"quantitative","scale":{"domain":[0,1.168e-9],"nice":false,"zero":false},"axis":{"values":[0,2e-10,4e-10,6e-10,8e-10,1e-9],"labelExpr":"format(datum.value*1e9,'~g')","title":null}},"y2":{"datum":1.168e-9}}},
        {"data":{"values":[{}]},"mark":{"type":"rect","fill":"#fff","stroke":"#000","strokeWidth":1},
         "encoding":{"x":{"datum":0.822,"type":"quantitative","scale":{"domain":[0,52],"nice":false,"zero":false},"axis":{"values":[0,10,20,30,40,50],"title":null}},"x2":{"datum":17.164},
                     "y":{"datum":1.04665e-9,"type":"quantitative","scale":{"domain":[0,1.168e-9],"nice":false,"zero":false},"axis":{"values":[0,2e-10,4e-10,6e-10,8e-10,1e-9],"labelExpr":"format(datum.value*1e9,'~g')","title":null}},"y2":{"datum":1.13799e-9}}},
        {"data":{"values":[{}]},"mark":{"type":"rule","color":"#000","strokeWidth":1.6},
         "encoding":{"x":{"datum":1.726,"type":"quantitative","scale":{"domain":[0,52],"nice":false,"zero":false},"axis":{"values":[0,10,20,30,40,50],"title":null}},"x2":{"datum":6.521},
                     "y":{"datum":1.09486e-9,"type":"quantitative","scale":{"domain":[0,1.168e-9],"nice":false,"zero":false},"axis":{"values":[0,2e-10,4e-10,6e-10,8e-10,1e-9],"labelExpr":"format(datum.value*1e9,'~g')","title":null}}}},
        {"data":{"values":[{}]},"mark":{"type":"point","shape":"triangle-up","filled":true,"fill":"#e6e6e6","stroke":"#000","strokeWidth":1.3,"size":60,"opacity":1},
         "encoding":{"x":{"datum":4.12,"type":"quantitative","scale":{"domain":[0,52],"nice":false,"zero":false},"axis":{"values":[0,10,20,30,40,50],"title":null}},
                     "y":{"datum":1.09486e-9,"type":"quantitative","scale":{"domain":[0,1.168e-9],"nice":false,"zero":false},"axis":{"values":[0,2e-10,4e-10,6e-10,8e-10,1e-9],"labelExpr":"format(datum.value*1e9,'~g')","title":null}}}},
        {"data":{"values":[{}]},"mark":{"type":"text","text":"DFT","font":"Liberation Sans","fontSize":17,"align":"left","baseline":"alphabetic","color":"#000"},
         "encoding":{"x":{"datum":6.986,"type":"quantitative","scale":{"domain":[0,52],"nice":false,"zero":false},"axis":{"values":[0,10,20,30,40,50],"title":null}},
                     "y":{"datum":1.07291e-9,"type":"quantitative","scale":{"domain":[0,1.168e-9],"nice":false,"zero":false},"axis":{"values":[0,2e-10,4e-10,6e-10,8e-10,1e-9],"labelExpr":"format(datum.value*1e9,'~g')","title":null}}}},
        {"data":{"values":[{}]},"mark":{"type":"text","text":"COMM","font":"Liberation Sans","fontSize":12.5,"align":"left","baseline":"alphabetic","color":"#000"},
         "encoding":{"x":{"datum":11.644,"type":"quantitative","scale":{"domain":[0,52],"nice":false,"zero":false},"axis":{"values":[0,10,20,30,40,50],"title":null}},
                     "y":{"datum":1.05567e-9,"type":"quantitative","scale":{"domain":[0,1.168e-9],"nice":false,"zero":false},"axis":{"values":[0,2e-10,4e-10,6e-10,8e-10,1e-9],"labelExpr":"format(datum.value*1e9,'~g')","title":null}}}},
        {"data":{"values":[{}]},"mark":{"type":"text","text":"x 10","font":"Liberation Serif","fontSize":26,"align":"left","baseline":"alphabetic","color":"#000"},
         "encoding":{"x":{"datum":0,"type":"quantitative","scale":{"domain":[0,52],"nice":false,"zero":false},"axis":{"values":[0,10,20,30,40,50],"title":null}},
                     "y":{"datum":1.18385e-9,"type":"quantitative","scale":{"domain":[0,1.168e-9],"nice":false,"zero":false},"axis":{"values":[0,2e-10,4e-10,6e-10,8e-10,1e-9],"labelExpr":"format(datum.value*1e9,'~g')","title":null}}}},
        {"data":{"values":[{}]},"mark":{"type":"text","text":"−9","font":"Liberation Serif","fontSize":15,"align":"left","baseline":"alphabetic","color":"#000"},
         "encoding":{"x":{"datum":6.068,"type":"quantitative","scale":{"domain":[0,52],"nice":false,"zero":false},"axis":{"values":[0,10,20,30,40,50],"title":null}},
                     "y":{"datum":1.22971e-9,"type":"quantitative","scale":{"domain":[0,1.168e-9],"nice":false,"zero":false},"axis":{"values":[0,2e-10,4e-10,6e-10,8e-10,1e-9],"labelExpr":"format(datum.value*1e9,'~g')","title":null}}}},
        {"data":{"values":[{}]},"mark":{"type":"text","text":"Absolute Error for N=8192","font":"Liberation Serif","fontSize":26.5,"fontWeight":"bold","fontStyle":"italic","align":"left","baseline":"alphabetic","color":"#000"},
         "encoding":{"x":{"datum":9.945,"type":"quantitative","scale":{"domain":[0,52],"nice":false,"zero":false},"axis":{"values":[0,10,20,30,40,50],"title":null}},
                     "y":{"datum":1.2101e-9,"type":"quantitative","scale":{"domain":[0,1.168e-9],"nice":false,"zero":false},"axis":{"values":[0,2e-10,4e-10,6e-10,8e-10,1e-9],"labelExpr":"format(datum.value*1e9,'~g')","title":null}}}},
        {"data":{"values":[{}]},"mark":{"type":"text","text":"Amplitude","angle":270,"font":"Liberation Serif","fontSize":26.5,"fontWeight":"bold","fontStyle":"italic","align":"center","baseline":"alphabetic","color":"#000"},
         "encoding":{"x":{"datum":-5.986,"type":"quantitative","scale":{"domain":[0,52],"nice":false,"zero":false},"axis":{"values":[0,10,20,30,40,50],"title":null}},
                     "y":{"datum":0.635045e-9,"type":"quantitative","scale":{"domain":[0,1.168e-9],"nice":false,"zero":false},"axis":{"values":[0,2e-10,4e-10,6e-10,8e-10,1e-9],"labelExpr":"format(datum.value*1e9,'~g')","title":null}}}},
        {"data":{"values":[{}]},"mark":{"type":"text","text":"Number of frequencies (k","font":"Liberation Serif","fontSize":26,"fontWeight":"bold","fontStyle":"italic","align":"left","baseline":"alphabetic","color":"#000"},
         "encoding":{"x":{"datum":0.63,"type":"quantitative","scale":{"domain":[0,52],"nice":false,"zero":false},"axis":{"values":[0,10,20,30,40,50],"title":null}},
                     "y":{"datum":-2.03842e-10,"type":"quantitative","scale":{"domain":[0,1.168e-9],"nice":false,"zero":false},"axis":{"values":[0,2e-10,4e-10,6e-10,8e-10,1e-9],"labelExpr":"format(datum.value*1e9,'~g')","title":null}}}},
        {"data":{"values":[{}]},"mark":{"type":"text","text":"s","font":"Liberation Serif","fontSize":17,"fontWeight":"bold","fontStyle":"italic","align":"left","baseline":"alphabetic","color":"#000"},
         "encoding":{"x":{"datum":38.315,"type":"quantitative","scale":{"domain":[0,52],"nice":false,"zero":false},"axis":{"values":[0,10,20,30,40,50],"title":null}},
                     "y":{"datum":-2.23442e-10,"type":"quantitative","scale":{"domain":[0,1.168e-9],"nice":false,"zero":false},"axis":{"values":[0,2e-10,4e-10,6e-10,8e-10,1e-9],"labelExpr":"format(datum.value*1e9,'~g')","title":null}}}},
        {"data":{"values":[{}]},"mark":{"type":"text","text":"=L","font":"Liberation Serif","fontSize":26,"fontWeight":"bold","fontStyle":"italic","align":"left","baseline":"alphabetic","color":"#000"},
         "encoding":{"x":{"datum":39.219,"type":"quantitative","scale":{"domain":[0,52],"nice":false,"zero":false},"axis":{"values":[0,10,20,30,40,50],"title":null}},
                     "y":{"datum":-2.03842e-10,"type":"quantitative","scale":{"domain":[0,1.168e-9],"nice":false,"zero":false},"axis":{"values":[0,2e-10,4e-10,6e-10,8e-10,1e-9],"labelExpr":"format(datum.value*1e9,'~g')","title":null}}}},
        {"data":{"values":[{}]},"mark":{"type":"text","text":"o","font":"Liberation Serif","fontSize":17,"fontWeight":"bold","fontStyle":"italic","align":"left","baseline":"alphabetic","color":"#000"},
         "encoding":{"x":{"datum":43.425,"type":"quantitative","scale":{"domain":[0,52],"nice":false,"zero":false},"axis":{"values":[0,10,20,30,40,50],"title":null}},
                     "y":{"datum":-2.23442e-10,"type":"quantitative","scale":{"domain":[0,1.168e-9],"nice":false,"zero":false},"axis":{"values":[0,2e-10,4e-10,6e-10,8e-10,1e-9],"labelExpr":"format(datum.value*1e9,'~g')","title":null}}}},
        {"data":{"values":[{}]},"mark":{"type":"text","text":"=50)","font":"Liberation Serif","fontSize":26,"fontWeight":"bold","fontStyle":"italic","align":"left","baseline":"alphabetic","color":"#000"},
         "encoding":{"x":{"datum":44.589,"type":"quantitative","scale":{"domain":[0,52],"nice":false,"zero":false},"axis":{"values":[0,10,20,30,40,50],"title":null}},
                     "y":{"datum":-2.03842e-10,"type":"quantitative","scale":{"domain":[0,1.168e-9],"nice":false,"zero":false},"axis":{"values":[0,2e-10,4e-10,6e-10,8e-10,1e-9],"labelExpr":"format(datum.value*1e9,'~g')","title":null}}}},
        {"data":{"values":[{}]},"mark":{"type":"text","text":"b","font":"Liberation Sans","fontSize":32,"fontWeight":"bold","align":"center","baseline":"alphabetic","color":"#000"},
         "encoding":{"x":{"datum":26.616,"type":"quantitative","scale":{"domain":[0,52],"nice":false,"zero":false},"axis":{"values":[0,10,20,30,40,50],"title":null}},
                     "y":{"datum":-3.44963e-10,"type":"quantitative","scale":{"domain":[0,1.168e-9],"nice":false,"zero":false},"axis":{"values":[0,2e-10,4e-10,6e-10,8e-10,1e-9],"labelExpr":"format(datum.value*1e9,'~g')","title":null}}}}
      ]
    }
  ]
}
